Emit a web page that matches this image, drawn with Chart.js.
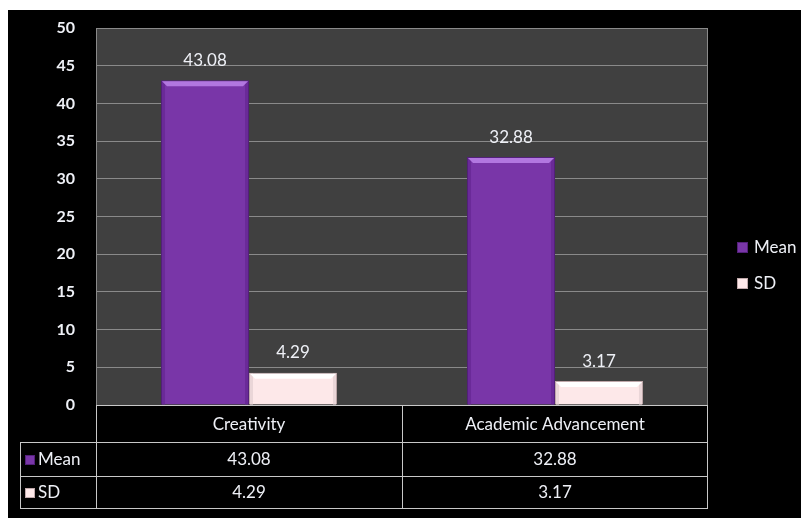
<!DOCTYPE html>
<html>
<head>
<meta charset="utf-8">
<script src="https://cdn.jsdelivr.net/npm/chart.js@4"></script>
<style>
  html, body { margin: 0; padding: 0; background: #fff; }
  #wrap { position: absolute; left: 8px; top: 10px; width: 793px; height: 508px; background: #000; }
</style>
</head>
<body>
<div id="wrap"><canvas id="c" width="793" height="508"></canvas></div>
<script>
// ── Data ─────────────────────────────────────────────
const categories = ['Creativity', 'Academic Advancement'];
const meanValues = [43.08, 32.88];
const sdValues   = [4.29, 3.17];
const seriesNames = ['Mean', 'SD'];
const yTicks = [0, 5, 10, 15, 20, 25, 30, 35, 40, 45, 50];

const FONT = "Lato, 'Open Sans', sans-serif";
const TXT = '#eef0f6';
const LINE = '#c8c8c8';
const styles = [
    { fill: '#7936a8', border: '#53207a', hi: '#b277e0', lo: '#6a2a98' },
    { fill: '#fde8e9', border: '#bfa8aa', hi: '#ffffff', lo: '#ead6d8' }
];

// plot background, bevels, value labels, data table, legend
const decor = {
    id: 'decor',
    beforeDraw(chart) {
        const { ctx, chartArea: a } = chart;
        ctx.save();
        ctx.fillStyle = '#404040';
        ctx.fillRect(a.left, a.top, a.right - a.left, a.bottom - a.top);
        ctx.restore();
    },
    afterDatasetsDraw(chart) {
        const { ctx } = chart;
        ctx.save();
        chart.data.datasets.forEach((ds, di) => {
            const st = styles[di];
            chart.getDatasetMeta(di).data.forEach((bar, i) => {
                const l = bar.x - bar.width / 2, r = bar.x + bar.width / 2;
                const t = bar.y, b = bar.base, bv = 6;
                // side shading
                ctx.fillStyle = st.lo;
                ctx.fillRect(l + 1, t + 1, 3, b - t - 1);
                ctx.fillRect(r - 4, t + 1, 3, b - t - 1);
                // top bevel
                ctx.fillStyle = st.hi;
                ctx.beginPath();
                ctx.moveTo(l + 1, t + 1); ctx.lineTo(r - 1, t + 1);
                ctx.lineTo(r - bv, t + bv); ctx.lineTo(l + bv, t + bv);
                ctx.closePath(); ctx.fill();
                // value label
                ctx.fillStyle = TXT;
                ctx.font = '17px ' + FONT;
                ctx.textAlign = 'center';
                ctx.textBaseline = 'middle';
                ctx.fillText(ds.data[i].toFixed(2), bar.x, t - 20);
            });
        });
        ctx.restore();
    },
    afterDraw(chart) {
        const { ctx, chartArea: a, scales: { x } } = chart;
        const rows = [a.bottom, a.bottom + 37, a.bottom + 71, a.bottom + 103];
        const tableLeft = 12;
        const mid = (x.getPixelForValue(0) + x.getPixelForValue(1)) / 2;
        ctx.save();
        // plot frame
        ctx.strokeStyle = '#8a8a8a';
        ctx.lineWidth = 1;
        ctx.strokeRect(a.left + 0.5, a.top + 0.5, a.right - a.left - 1, a.bottom - a.top);
        // table lines
        ctx.strokeStyle = LINE;
        ctx.beginPath();
        ctx.moveTo(a.left, rows[0] + 0.5); ctx.lineTo(a.right, rows[0] + 0.5);
        for (let k = 1; k < rows.length; k++) {
            ctx.moveTo(tableLeft, rows[k] + 0.5); ctx.lineTo(a.right, rows[k] + 0.5);
        }
        ctx.moveTo(a.left + 0.5, rows[0]); ctx.lineTo(a.left + 0.5, rows[3]);
        ctx.moveTo(mid + 0.5, rows[0]); ctx.lineTo(mid + 0.5, rows[3]);
        ctx.moveTo(a.right - 0.5, rows[0]); ctx.lineTo(a.right - 0.5, rows[3]);
        ctx.moveTo(tableLeft + 0.5, rows[1]); ctx.lineTo(tableLeft + 0.5, rows[3]);
        ctx.stroke();
        // table text
        ctx.fillStyle = TXT;
        ctx.font = '17px ' + FONT;
        ctx.textAlign = 'center';
        ctx.textBaseline = 'middle';
        categories.forEach((c, i) => {
            const cx = x.getPixelForValue(i);
            ctx.fillText(c, cx, (rows[0] + rows[1]) / 2 + 1);
            ctx.fillText(meanValues[i].toFixed(2), cx, (rows[1] + rows[2]) / 2 + 1);
            ctx.fillText(sdValues[i].toFixed(2), cx, (rows[2] + rows[3]) / 2 + 1);
        });
        // row headers with swatches
        ctx.textAlign = 'left';
        seriesNames.forEach((n, k) => {
            const cy = (rows[k + 1] + rows[k + 2]) / 2 + 1;
            ctx.fillStyle = styles[k].fill;
            ctx.fillRect(tableLeft + 5, cy - 5, 10, 10);
            ctx.strokeStyle = styles[k].border;
            ctx.strokeRect(tableLeft + 5.5, cy - 4.5, 9, 9);
            ctx.fillStyle = TXT;
            ctx.fillText(n, tableLeft + 18, cy);
        });
        // legend
        seriesNames.forEach((n, k) => {
            const cy = 238 + k * 36;
            ctx.fillStyle = styles[k].fill;
            ctx.fillRect(729, cy - 6, 11, 11);
            ctx.strokeStyle = styles[k].border;
            ctx.strokeRect(729.5, cy - 5.5, 10, 10);
            ctx.fillStyle = TXT;
            ctx.fillText(n, 746, cy);
        });
        ctx.restore();
    }
};

new Chart(document.getElementById('c'), {
    type: 'bar',
    data: {
        labels: categories,
        datasets: [
            { label: seriesNames[0], data: meanValues, backgroundColor: styles[0].fill, borderColor: styles[0].border, borderWidth: 1 },
            { label: seriesNames[1], data: sdValues,   backgroundColor: styles[1].fill, borderColor: styles[1].border, borderWidth: 1 }
        ]
    },
    options: {
        responsive: false,
        animation: false,
        events: [],
        layout: { padding: { top: 18, right: 93, bottom: 113, left: 0 } },
        datasets: { bar: { categoryPercentage: 0.575, barPercentage: 1.0 } },
        plugins: { legend: { display: false }, tooltip: { enabled: false } },
        scales: {
            x: { display: false },
            y: {
                min: 0, max: 50,
                afterBuildTicks: s => { s.ticks = yTicks.map(v => ({ value: v })); },
                afterFit: s => { s.width = 88; s.paddingTop = 0; s.paddingBottom = 0; },
                ticks: { color: TXT, padding: 21, font: { family: FONT, size: 16, weight: 'bold' } },
                grid: { color: '#8a8a8a', drawTicks: false },
                border: { display: false }
            }
        }
    },
    plugins: [decor]
});
</script>
</body>
</html>
